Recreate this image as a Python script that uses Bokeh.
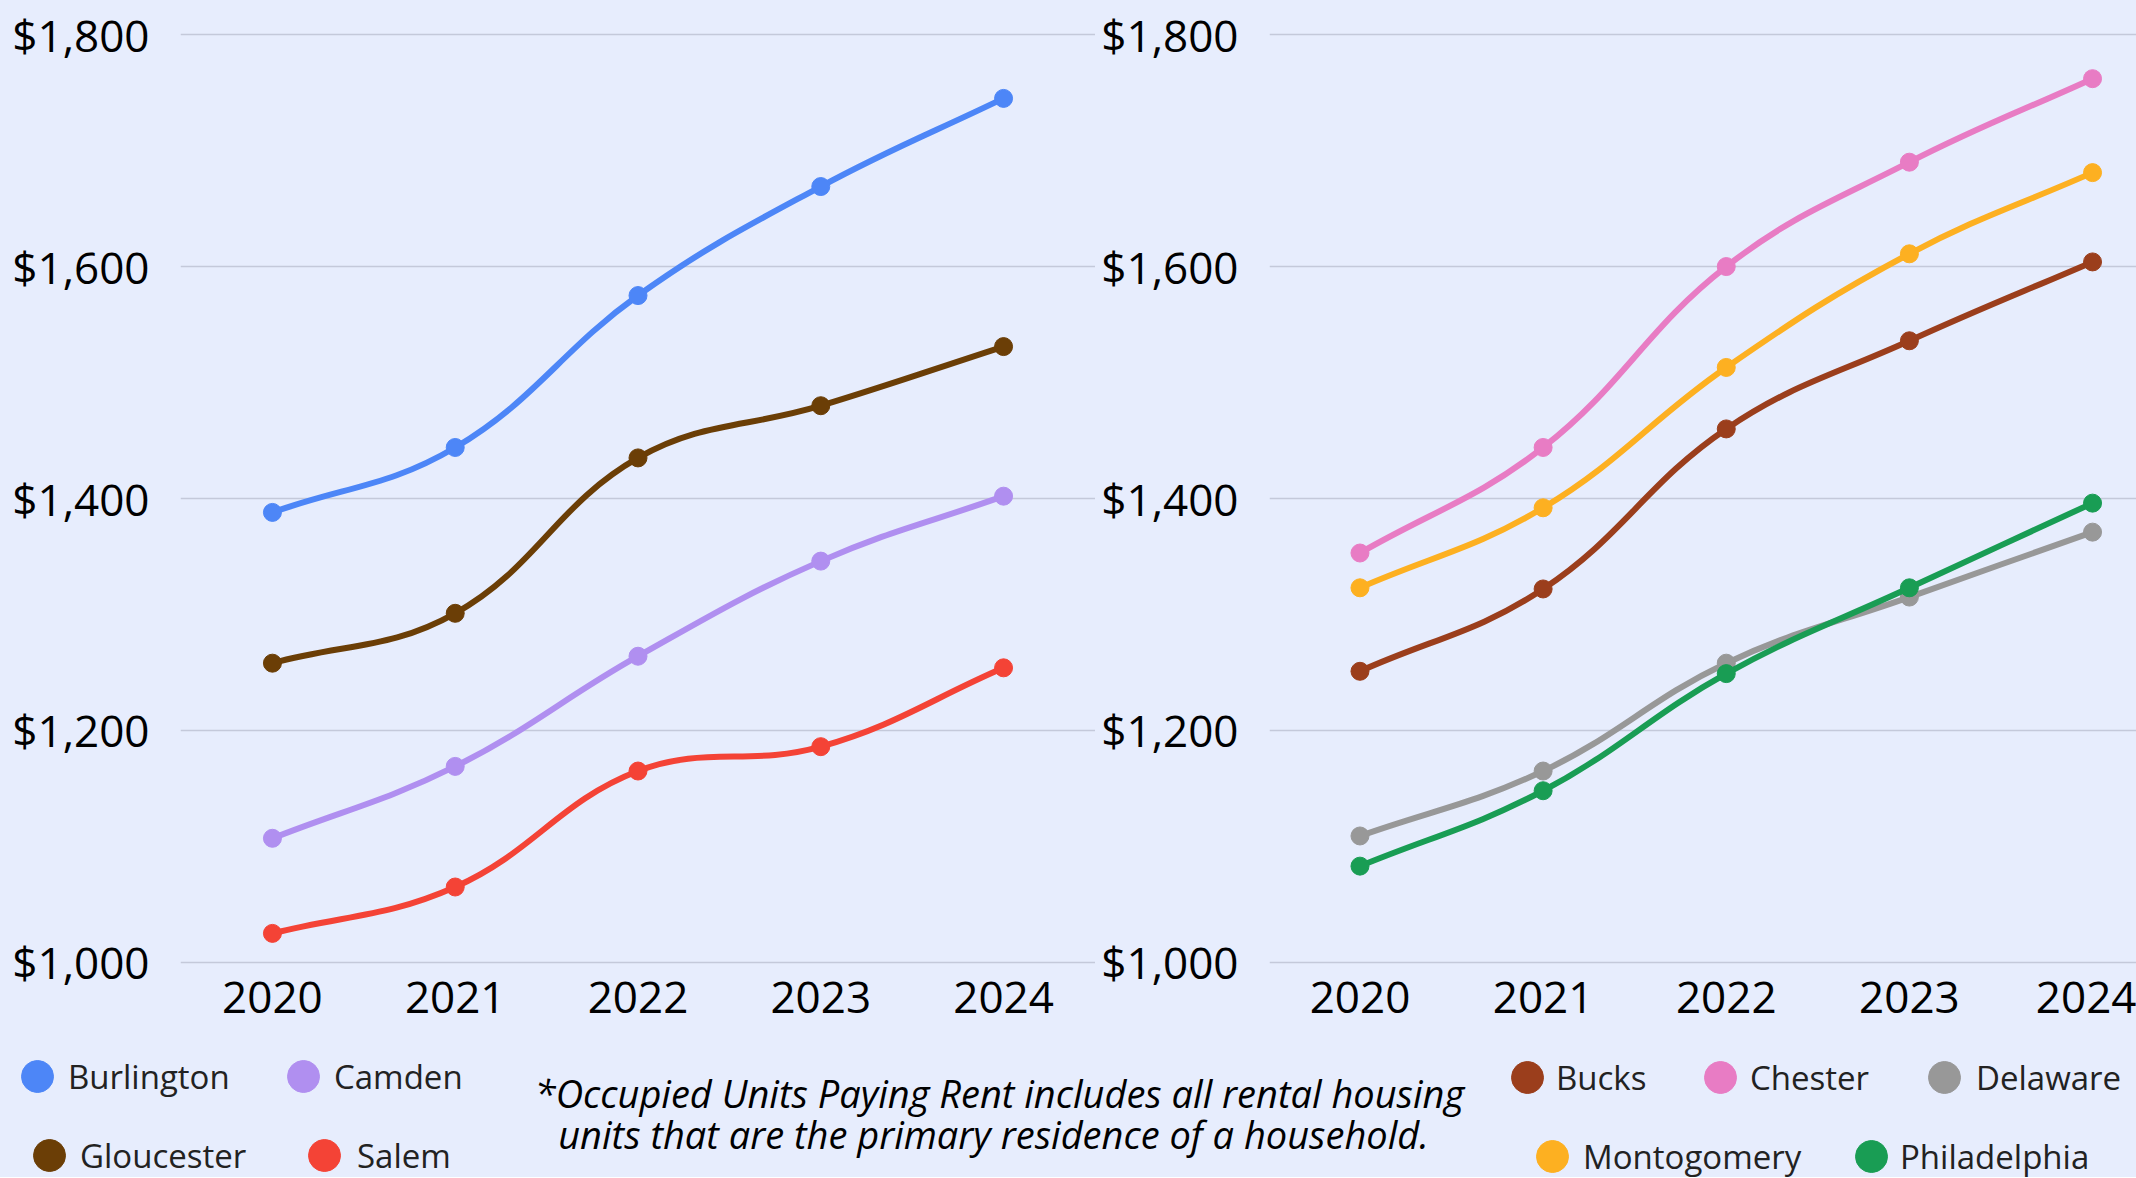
import re
from bokeh.plotting import figure
from bokeh.layouts import column, row
from bokeh.models import (ColumnDataSource, Range1d, NumeralTickFormatter,
                          Legend, LegendItem, Label)
from bokeh.embed import file_html
from bokeh.resources import INLINE

# ---------------- data ----------------
years = [2020, 2021, 2022, 2023, 2024]
y_ticks = [1000, 1200, 1400, 1600, 1800]

nj_names = ["Burlington", "Camden", "Gloucester", "Salem"]
burlington = [1388, 1444, 1575, 1669, 1745]
camden = [1107, 1169, 1264, 1346, 1402]
gloucester = [1258, 1301, 1435, 1480, 1531]
salem = [1025, 1065, 1165, 1186, 1254]

pa_names = ["Bucks", "Chester", "Delaware", "Montogomery", "Philadelphia"]
bucks = [1251, 1322, 1460, 1536, 1604]
chester = [1353, 1444, 1600, 1690, 1762]
delaware = [1109, 1165, 1258, 1315, 1371]
montgomery = [1323, 1392, 1513, 1611, 1681]
philadelphia = [1083, 1148, 1249, 1323, 1396]

note_line1 = "*Occupied Units Paying Rent includes all rental housing"
note_line2 = "units that are the primary residence of a household."

# ---------------- styles ----------------
BG = "#e7edfd"
GRID = "#c4c9da"
FONT = "Open Sans"
nj_colors = ["#4d86f7", "#b08ff0", "#6b3e06", "#f44336"]
pa_colors = ["#9b3e1c", "#e87cc4", "#989898", "#fdb021", "#199d54"]
TOP_H = 1042
BOT_H = 135
PX_X = 182.9   # approx px per year (only weights the spline tangents)
PX_Y = 1.16    # approx px per dollar


def spline_segments(xs, ys, t=0.4):
    """Cubic spline control points (Chart.js-like) for a smooth curve through the points."""
    n = len(xs)
    prev_cp, next_cp = [], []
    for i in range(n):
        p = max(i - 1, 0)
        q = min(i + 1, n - 1)
        d01 = ((xs[i] - xs[p]) ** 2 * PX_X ** 2 + (ys[i] - ys[p]) ** 2 * PX_Y ** 2) ** 0.5
        d12 = ((xs[q] - xs[i]) ** 2 * PX_X ** 2 + (ys[q] - ys[i]) ** 2 * PX_Y ** 2) ** 0.5
        tot = d01 + d12
        s01 = d01 / tot if tot else 0
        s12 = d12 / tot if tot else 0
        fa, fb = t * s01, t * s12
        dx, dy = xs[q] - xs[p], ys[q] - ys[p]
        prev_cp.append((xs[i] - fa * dx, ys[i] - fa * dy))
        next_cp.append((xs[i] + fb * dx, ys[i] + fb * dy))
    d = dict(x0=[], y0=[], x1=[], y1=[], cx0=[], cy0=[], cx1=[], cy1=[])
    for i in range(n - 1):
        d["x0"].append(xs[i]); d["y0"].append(ys[i])
        d["x1"].append(xs[i + 1]); d["y1"].append(ys[i + 1])
        d["cx0"].append(next_cp[i][0]); d["cy0"].append(next_cp[i][1])
        d["cx1"].append(prev_cp[i + 1][0]); d["cy1"].append(prev_cp[i + 1][1])
    return ColumnDataSource(d)


def make_chart(width, border_left, xr, series, colors):
    p = figure(width=width, height=TOP_H, x_range=Range1d(*xr), y_range=Range1d(993, 1807),
               output_backend="svg", toolbar_location=None,
               min_border_left=border_left, min_border_right=0,
               min_border_top=26, min_border_bottom=72,
               styles={"background-color": BG})
    p.background_fill_color = BG
    p.border_fill_color = BG
    p.outline_line_color = None
    p.xgrid.grid_line_color = None
    p.ygrid.grid_line_color = GRID
    p.ygrid.grid_line_width = 1.5
    p.xaxis.ticker = years
    p.yaxis.ticker = y_ticks
    p.yaxis.formatter = NumeralTickFormatter(format="$0,0")
    for ax in (p.xaxis, p.yaxis):
        ax.axis_line_color = None
        ax.major_tick_line_color = None
        ax.minor_tick_line_color = None
        ax.major_tick_out = 0
        ax.major_tick_in = 0
        ax.major_label_text_font = FONT
        ax.major_label_text_font_size = "44px"
        ax.major_label_text_color = "#000000"
    p.yaxis.major_label_standoff = 31
    p.xaxis.major_label_standoff = 11
    for vals, c in zip(series, colors):
        src = spline_segments(years, vals)
        p.bezier(x0="x0", y0="y0", x1="x1", y1="y1", cx0="cx0", cy0="cy0",
                 cx1="cx1", cy1="cy1", source=src, line_color=c, line_width=6)
        p.scatter(years, vals, size=18, color=c)
    return p


left = make_chart(1095, 180, (2019.497, 2024.503),
                  [burlington, gloucester, camden, salem],
                  [nj_colors[0], nj_colors[2], nj_colors[1], nj_colors[3]])
right = make_chart(2136 - 1095, 174, (2019.506, 2024.240),
                   [bucks, chester, montgomery, delaware, philadelphia],
                   [pa_colors[0], pa_colors[1], pa_colors[3], pa_colors[2], pa_colors[4]])

# ---------------- bottom strip: legends + footnote ----------------
bottom = figure(width=2136, height=BOT_H, x_range=Range1d(0, 1), y_range=Range1d(0, 1),
                output_backend="svg", toolbar_location=None,
                x_axis_location=None, y_axis_location=None, min_border=0,
                styles={"background-color": BG})
bottom.background_fill_color = BG
bottom.border_fill_color = BG
bottom.outline_line_color = None
bottom.grid.visible = False

PAGE_BOTTOM = TOP_H + BOT_H  # page y of the strip bottom
# (dot centre x, dot centre y, text start x) in page pixels
legend_layout = {
    "Burlington": (37, 1076, 68), "Camden": (303, 1076, 334),
    "Gloucester": (49, 1155, 80), "Salem": (324, 1155, 357),
    "Bucks": (1527, 1077, 1556), "Chester": (1720, 1077, 1750), "Delaware": (1944, 1077, 1976),
    "Montogomery": (1552, 1156, 1583), "Philadelphia": (1871, 1156, 1900),
}
GW, GH = 40, 48
all_series = [burlington, camden, gloucester, salem, bucks, chester, delaware, montgomery, philadelphia]
for (name, c), vals in zip(list(zip(nj_names, nj_colors)) + list(zip(pa_names, pa_colors)), all_series):
    # legend-only renderer: its data lies outside this strip's ranges, so only the swatch shows
    r = bottom.ellipse(x=years, y=vals, width=18, height=18, width_units="screen",
                       height_units="screen", fill_color=c, line_color=c)
    cx, cy, tx = legend_layout[name]
    lg = Legend(items=[LegendItem(label=name, renderers=[r])],
                location=(cx - GW // 2, PAGE_BOTTOM - (cy + GH // 2)),
                orientation="horizontal", glyph_width=GW, glyph_height=GH,
                label_standoff=tx - cx - GW // 2, padding=0, margin=0,
                border_line_color=None, background_fill_alpha=0,
                label_text_font=FONT, label_text_font_size="33px",
                label_text_color="#222222")
    bottom.add_layout(lg)

for txt, cxp, base in ((note_line1, 999, 1105), (note_line2, 993, 1146)):
    bottom.add_layout(Label(x=cxp, y=PAGE_BOTTOM - base + 13, x_units="screen", y_units="screen",
                            text=txt, text_align="center", text_baseline="alphabetic",
                            text_font=FONT, text_font_style="italic", text_font_size="38px",
                            text_color="#000000"))

top_row = row(left, right, styles={"background-color": BG})
layout = column(top_row, bottom, styles={"background-color": BG})
html = file_html(layout, INLINE, title="Rent trends")
html = re.sub(r"<body([^>]*)>", r'<body\1 style="background-color:%s;">' % BG, html, count=1)
open("out.html", "w").write(html)
